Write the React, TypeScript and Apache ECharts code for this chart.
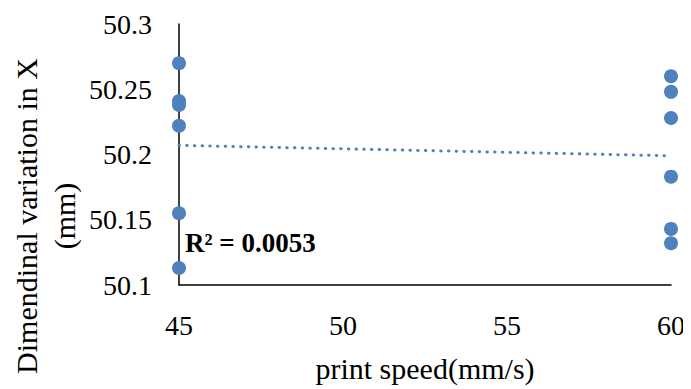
import React, { useEffect, useRef } from "react";
import * as echarts from "echarts";

const xTicks = [45, 50, 55, 60];
const yTicks = [50.1, 50.15, 50.2, 50.25, 50.3];
const speed45 = [50.27, 50.241, 50.238, 50.222, 50.155, 50.113];
const speed60 = [50.26, 50.248, 50.228, 50.183, 50.143, 50.132];
const trendEnds = [
  [45, 50.207],
  [60, 50.199],
];
const r2Label = "R² = 0.0053";
const xTitle = "print speed(mm/s)";
const yTitle = ["Dimendinal variation in X", "(mm)"];

const BLUE = "#4F81BD";
const FONT = "'Liberation Serif', 'Times New Roman', serif";

export default function App() {
  const ref = useRef<HTMLDivElement>(null);
  useEffect(() => {
    if (!ref.current) return;
    const chart = echarts.init(ref.current, null, { renderer: "svg" });
    const points = [
      ...speed45.map((v) => [45, v]),
      ...speed60.map((v) => [60, v]),
    ];
    chart.setOption({
      animation: false,
      backgroundColor: "#ffffff",
      grid: { left: 179, right: 20, top: 24, bottom: 104 },
      xAxis: {
        type: "value",
        min: xTicks[0],
        max: xTicks[xTicks.length - 1],
        interval: 5,
        axisLine: { lineStyle: { color: "#000", width: 1.5 } },
        axisTick: { show: false },
        splitLine: { show: false },
        axisLabel: {
          color: "#000",
          fontFamily: FONT,
          fontSize: 28,
          margin: 26,
        },
      },
      yAxis: {
        type: "value",
        min: yTicks[0],
        max: yTicks[yTicks.length - 1],
        interval: 0.05,
        axisLine: { show: true, lineStyle: { color: "#000", width: 1.5 } },
        axisTick: { show: false },
        splitLine: { show: false },
        axisLabel: {
          color: "#000",
          fontFamily: FONT,
          fontSize: 28,
          margin: 27,
          formatter: (v: number) => String(parseFloat(v.toFixed(2))),
        },
      },
      graphic: [
        {
          type: "text",
          x: 425,
          y: 368,
          style: {
            text: xTitle,
            fontFamily: FONT,
            fontSize: 30,
            fill: "#000",
            align: "center",
            verticalAlign: "middle",
          },
        },
        {
          type: "text",
          x: 45,
          y: 216,
          rotation: Math.PI / 2,
          style: {
            text: yTitle.join("\n"),
            fontFamily: FONT,
            fontSize: 30,
            lineHeight: 38,
            fill: "#000",
            align: "center",
            verticalAlign: "middle",
          },
        },
        {
          type: "text",
          x: 185,
          y: 243,
          style: {
            text: r2Label,
            fontFamily: FONT,
            fontSize: 27,
            fontWeight: "bold",
            fill: "#000",
            align: "left",
            verticalAlign: "middle",
          },
        },
      ],
      series: [
        {
          type: "line",
          data: trendEnds,
          symbol: "none",
          lineStyle: { color: BLUE, width: 3, type: [0.5, 7.2], cap: "round", opacity: 1 },
          z: 1,
        },
        {
          type: "scatter",
          data: points,
          symbol: "circle",
          symbolSize: 14,
          itemStyle: { color: BLUE, opacity: 1 },
          z: 3,
        },
      ],
    });
    return () => chart.dispose();
  }, []);
  return <div ref={ref} style={{ width: 691, height: 389, marginLeft: -8, marginTop: -8 }} />;
}
